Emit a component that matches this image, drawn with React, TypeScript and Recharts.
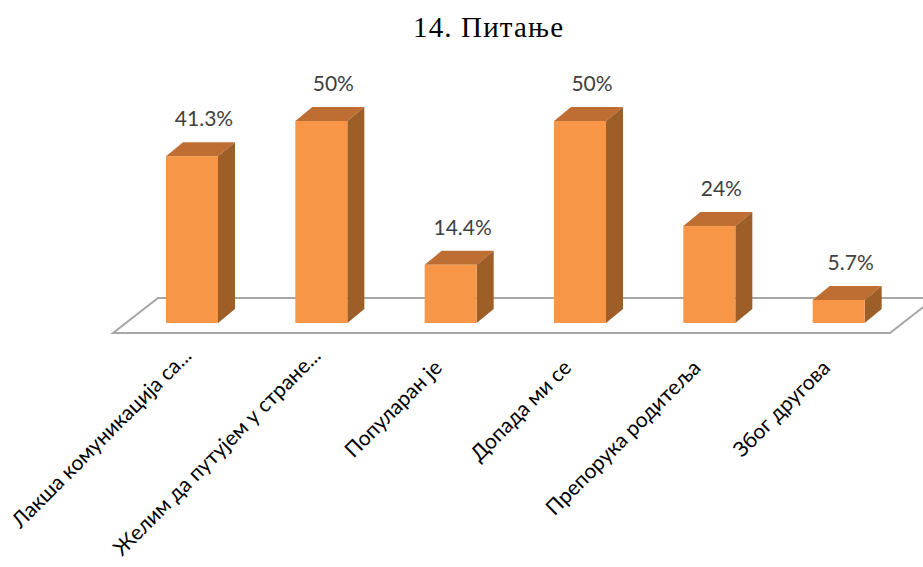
import { BarChart, Bar, XAxis, YAxis, LabelList } from 'recharts';

const categories = [
  'Лакша комуникација са...',
  'Желим да путујем у стране...',
  'Популаран је',
  'Допада ми се',
  'Препорука родитеља',
  'Због другова',
];
const percents = [41.3, 50, 14.4, 50, 24, 5.7];

const data = categories.map((name, i) => ({ name, value: percents[i] }));

const W = 923;
const H = 567;
const margin = { top: 121, right: 20, bottom: 14, left: 127 };
const axisHeight = 230;
const plotBottom = H - margin.bottom - axisHeight;
const plotLeft = margin.left;
const plotRight = W - margin.right;

// 3d depth of the bars and the floor
const DX = 17;
const DY = 14;
const FLOOR_DX = 45;
const FLOOR_DY = 35;

const FRONT = '#F79646';
const TOP = '#BE6E32';
const SIDE = '#9D5E28';
const TEXT = '#404040';
const FONT = "Lato, 'Open Sans', sans-serif";

const Bar3D = (props: any) => {
  const { x, y, width, height } = props;
  if (height == null || height <= 0) return null;
  const r = x + width;
  const b = y + height;
  return (
    <g>
      <polygon points={`${x},${y} ${x + DX},${y - DY} ${r + DX},${y - DY} ${r},${y}`} fill={TOP} />
      <polygon points={`${r},${y} ${r + DX},${y - DY} ${r + DX},${b - DY} ${r},${b}`} fill={SIDE} />
      <rect x={x} y={y} width={width} height={height} fill={FRONT} />
    </g>
  );
};

const ValueLabel = (props: any) => {
  const { x, y, width, value } = props;
  return (
    <text x={x + width / 2 + 12} y={y - 30} textAnchor="middle" fontFamily={FONT} fontSize={21} fill={TEXT}>
      {`${value}%`}
    </text>
  );
};

const Tick = (props: any) => {
  const { x, payload } = props;
  // truncated (long) labels sit a little higher, as in the original
  const long = String(payload.value).endsWith('...');
  const ax = x - 7 + (long ? 8 : 0);
  const ay = plotBottom + 46 - (long ? 12 : 0);
  return (
    <text
      x={ax}
      y={ay}
      transform={`rotate(-45, ${ax}, ${ay})`}
      textAnchor="end"
      fontFamily={FONT}
      fontSize={21}
      fill="#000"
    >
      {payload.value}
    </text>
  );
};

export default function App() {
  const fl = plotLeft - 14;
  const fr = plotRight - 13;
  const fy = plotBottom + 10;
  return (
    <div style={{ position: 'absolute', left: 0, top: 0, width: W, height: H, background: '#fff', overflow: 'hidden' }}>
      <svg width={W} height={H} style={{ position: 'absolute', left: 0, top: 0 }}>
        <text
          x={488}
          y={37}
          textAnchor="middle"
          textLength={150}
          lengthAdjust="spacing"
          fontFamily="'Liberation Serif', 'Times New Roman', serif"
          fontSize={29}
          fill="#000"
        >
          14. Питање
        </text>
        <polygon
          points={`${fl},${fy} ${fl + FLOOR_DX},${fy - FLOOR_DY} ${fr + FLOOR_DX},${fy - FLOOR_DY} ${fr},${fy}`}
          fill="#fff"
          stroke="#a6a6a6"
          strokeWidth={2}
        />
      </svg>
      <div style={{ position: 'absolute', left: 0, top: 0 }}>
        <BarChart width={W} height={H} data={data} margin={margin}>
          <XAxis
            dataKey="name"
            height={axisHeight}
            axisLine={false}
            tickLine={false}
            interval={0}
            tick={<Tick />}
          />
          <YAxis hide domain={[0, 50]} />
          <Bar dataKey="value" barSize={52} shape={<Bar3D />} isAnimationActive={false}>
            <LabelList dataKey="value" content={<ValueLabel />} />
          </Bar>
        </BarChart>
      </div>
    </div>
  );
}
